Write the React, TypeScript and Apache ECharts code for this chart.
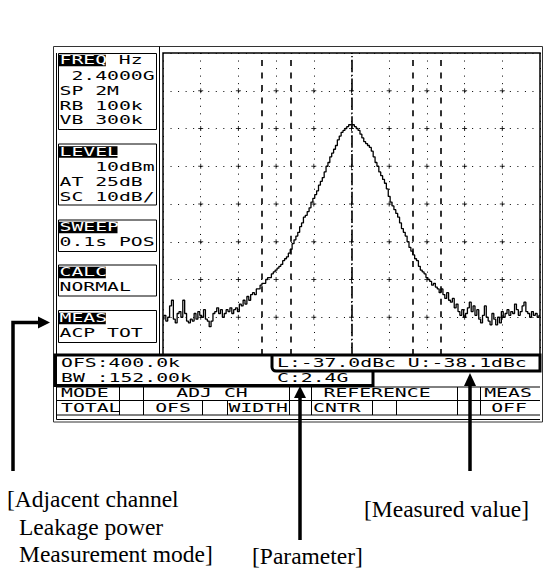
import React, { useEffect, useRef } from "react";
import * as echarts from "echarts";

// ---------------- data ----------------
const SWEEP_START_KHZ = -1000;
const SWEEP_STEP_KHZ = 10;
const TRACE_DBM = [
  -60.5, -59.5, -61, -60, -57, -55.5, -60.5, -61.5, -59, -58.5,
  -60, -55.5, -59, -61, -61.5, -60.5, -61, -59, -60.5, -58.5,
  -59.5, -60, -58, -60.5, -61, -62.5, -61, -59, -58.5, -57.5,
  -59, -58, -60, -59, -58, -58.5, -57.5, -59, -58, -57.5,
  -58.5, -56.5,
  -57, -55.5, -56.5, -54.5, -55.5, -54, -53.5, -54, -52.5, -52.5,
  -51.5, -51, -51, -50, -49.5, -49.5, -48.5, -48, -47.5, -47,
  -46.5, -46, -45, -44.5, -44, -43, -42, -40.5, -39.5, -38.5,
  -37.5, -36, -35, -33.5, -33, -32, -31, -29.5, -28.5, -27.5,
  -26.5, -25, -24, -23, -21.5, -20, -19, -17.5, -16.5, -15.5,
  -14.5, -13, -12, -11, -10.5, -10, -9.5, -9,
  -9, -9, -9.5, -10, -10.5, -11.5, -12.5, -13.5, -14, -14.5,
  -15, -16, -17.5, -19, -20, -21.5, -22.5, -23.5, -24.5, -26,
  -28, -29.5, -30.5, -31.5, -32.5, -33.5, -35, -36.5, -37.5, -38.5,
  -40, -41.5, -42.5, -43.5, -44.5, -45, -46.5, -47.5, -48, -48.5,
  -49.5, -50, -50.5, -51.5, -51, -52, -52.5, -53.5, -52.5, -54,
  -55, -53.5, -55.5, -56, -55, -57.5, -56.5, -58.5, -59.5, -58,
  -60,
  -59, -57.5, -56, -58.5, -57, -59.5, -58, -60.5, -61.5, -59.5,
  -57, -60, -61, -62, -59, -60.5, -62, -60, -61.5, -58.5,
  -60, -59, -58, -59.5, -58.5, -59, -56.5, -58, -59.5, -58.5,
  -57, -56, -58.5, -59, -60, -58.5, -59.5, -59, -60, -59.5,
];

const X_MIN = -1000;
const X_MAX = 1000;
const X_DIV = 200;
const Y_MIN = -70;
const Y_MAX = 10;
const Y_DIV = 10;

const CH_OFFSET_KHZ = 400;
const CH_BW_KHZ = 152;

const PANEL_HEADS = ["FREQ", "LEVEL", "SWEEP", "CALC", "MEAS"];
const PANEL_UNITS = ["Hz", "", "", "", ""];
const PANEL_LINES = [
  [" 2.4000G", "SP 2M", "RB 100k", "VB 300k"],
  ["   10dBm", "AT 25dB", "SC 10dB/"],
  ["0.1s POS"],
  ["NORMAL"],
  ["ACP TOT"],
];

const PARAM_LINES = ["OFS:400.0k", "BW :152.00k"];
const RESULT_LINE = "L:-37.0dBc U:-38.1dBc";
const CENTER_LINE = "C:2.4G";

const MENU_ROW1 = ["MODE", "ADJ CH", "REFERENCE", "MEAS"];
const MENU_ROW2 = ["TOTAL", "OFS", "WIDTH", "CNTR", "OFF"];

const CAPTION_MODE = ["[Adjacent channel", "Leakage power", "Measurement mode]"];
const CAPTION_PARAM = "[Parameter]";
const CAPTION_VALUE = "[Measured value]";

// ---------------- layout / style ----------------
const W = 543;
const H = 569;
const MONO = "'DejaVu Sans Mono', monospace";
const SERIF = "'Liberation Serif', 'Times New Roman', serif";
const FS = 11.5;
const SX = 1.72;
const PITCH = 11.85;

function buildOption() {
  const g: any[] = [];
  const Z = 50;
  const line = (x1: number, y1: number, x2: number, y2: number, lw = 1, color = "#000") =>
    g.push({ type: "line", silent: true, z: Z, shape: { x1, y1, x2, y2 }, style: { stroke: color, lineWidth: lw } });
  const rect = (x: number, y: number, w: number, h: number, style: any, r?: any) =>
    g.push({ type: "rect", silent: true, z: Z, shape: { x, y, width: w, height: h, r: r || 0 }, style });
  const mono = (text: string, x: number, y: number, fill = "#000", align = "left") =>
    g.push({
      type: "text", silent: true, z: Z + 2, x, y, scaleX: SX,
      style: {
        text, fontFamily: MONO, fontSize: FS, fill,
        align, verticalAlign: "middle", textAlign: align, textVerticalAlign: "middle",
      },
    });
  const serif = (text: string, x: number, y: number) =>
    g.push({
      type: "text", silent: true, z: Z + 2, x, y,
      style: {
        text, fontFamily: SERIF, fontSize: 23.5, fill: "#000",
        align: "left", verticalAlign: "middle", textAlign: "left", textVerticalAlign: "middle",
      },
    });

  // frames
  rect(53.5, 46.5, 489, 375.5, { fill: "none", stroke: "#333", lineWidth: 1 });
  line(56.5, 53, 56.5, 419.5);
  line(56.5, 419.5, 540, 419.5);
  line(159.5, 46.5, 159.5, 354);

  // left panels
  const panelBox = [
    [53.5, 129.5], [144, 205], [220, 251.5], [265, 296], [310.5, 342.5],
  ];
  const panelRows = [
    [60.5, 76.5, 91.5, 106, 120.5],
    [152, 167, 182, 197.5],
    [227.5, 242.5],
    [272.5, 287],
    [318.5, 333.5],
  ];
  PANEL_HEADS.forEach((head, i) => {
    const [top, bot] = panelBox[i];
    rect(58.5, top, 98, bot - top, { fill: "#fff", stroke: "#000", lineWidth: 1 });
    const rows = panelRows[i];
    rect(59, rows[0] - 5.8, head.length * 11.7, 11.6, { fill: "#000" });
    mono(head, 59.5, rows[0], "#fff");
    if (PANEL_UNITS[i]) mono(PANEL_UNITS[i], 59.5 + 5 * PITCH, rows[0]);
    PANEL_LINES[i].forEach((t, k) => mono(t, 59.5, rows[k + 1]));
  });

  // parameter / result boxes
  g.push({
    type: "polyline", silent: true, z: Z + 1,
    shape: { points: [[272, 355], [55, 355], [55, 385.5], [373, 385.5], [373, 370]] },
    style: { stroke: "#000", lineWidth: 3, fill: "none" },
  });
  rect(272, 355, 268, 16, { fill: "none", stroke: "#000", lineWidth: 3 }, [0, 0, 0, 4]);
  mono(PARAM_LINES[0], 61, 363);
  mono(PARAM_LINES[1], 61, 378);
  mono(RESULT_LINE, 277, 363);
  mono(CENTER_LINE, 277, 378);

  // softkey menu
  line(56.5, 387, 540, 387);
  line(56.5, 400.5, 540, 400.5);
  line(56.5, 415, 540, 415);
  [119.5, 143.5, 289.5, 311.5, 457.5, 480.5].forEach((x) => line(x, 387, x, 400.5));
  [119.5, 143.5, 202.5, 227.5, 289.5, 311.5, 372.5, 396.5, 457.5, 480.5].forEach((x) => line(x, 400.5, x, 415));
  mono(MENU_ROW1[0], 61, 393.5);
  mono(MENU_ROW1[1], 212, 393.5, "#000", "center");
  mono(MENU_ROW1[2], 377, 393.5, "#000", "center");
  mono(MENU_ROW1[3], 508, 393.5, "#000", "center");
  mono(MENU_ROW2[0], 61, 408);
  mono(MENU_ROW2[1], 173, 408, "#000", "center");
  mono(MENU_ROW2[2], 228.5, 408);
  mono(MENU_ROW2[3], 313, 408);
  mono(MENU_ROW2[4], 509, 408, "#000", "center");

  // arrows
  g.push({
    type: "polyline", silent: true, z: Z + 3,
    shape: { points: [[13, 471], [13, 322.5], [39, 322.5]] },
    style: { stroke: "#000", lineWidth: 3.5, fill: "none" },
  });
  g.push({ type: "polygon", silent: true, z: Z + 3, shape: { points: [[38, 316.5], [50, 322.5], [38, 328.5]] }, style: { fill: "#000" } });
  line(300, 540, 300, 396, 3.5);
  g.push({ type: "polygon", silent: true, z: Z + 3, shape: { points: [[294, 398], [300, 386], [306, 398]] }, style: { fill: "#000" } });
  line(470, 471, 470, 384, 3.5);
  g.push({ type: "polygon", silent: true, z: Z + 3, shape: { points: [[464, 386], [470, 373], [476, 386]] }, style: { fill: "#000" } });

  // captions
  serif(CAPTION_MODE[0], 7, 499);
  serif(CAPTION_MODE[1], 19, 527);
  serif(CAPTION_MODE[2], 19, 554);
  serif(CAPTION_PARAM, 252, 556);
  serif(CAPTION_VALUE, 364, 509);

  // trace
  const trace = TRACE_DBM.map((v, i) => [SWEEP_START_KHZ + i * SWEEP_STEP_KHZ, v]);

  // grid crosses at major intersections
  const crosses: number[][] = [];
  for (let x = X_MIN + X_DIV; x < X_MAX; x += X_DIV)
    for (let y = Y_MIN + Y_DIV; y < Y_MAX; y += Y_DIV) crosses.push([x, y]);

  const dashed = { color: "#000", width: 1.6, type: [6, 6.57] };
  const chLines = [
    -(CH_OFFSET_KHZ + CH_BW_KHZ / 2), -(CH_OFFSET_KHZ - CH_BW_KHZ / 2),
    CH_OFFSET_KHZ - CH_BW_KHZ / 2, CH_OFFSET_KHZ + CH_BW_KHZ / 2,
  ];

  const axisCommon = {
    axisLine: { show: false },
    axisTick: { show: false },
    axisLabel: { show: false },
    splitLine: { show: true, lineStyle: { color: "#000", width: 1, type: [1, 6.54] } },
  };

  return {
    animation: false,
    backgroundColor: "#fff",
    grid: { left: 163, top: 53, width: 377, height: 302, show: true, borderColor: "#000", borderWidth: 1.5, backgroundColor: "transparent" },
    xAxis: { type: "value", min: X_MIN, max: X_MAX, interval: X_DIV, ...axisCommon },
    yAxis: { type: "value", min: Y_MIN, max: Y_MAX, interval: Y_DIV, ...axisCommon },
    series: [
      {
        type: "scatter", data: crosses, silent: true, z: 1,
        symbol: "path://M2,0h1v2h2v1h-2v2h-1v-2h-2v-1h2z", symbolSize: 5,
        itemStyle: { color: "#000" },
      },
      {
        type: "line", data: trace, symbol: "none", step: "middle", silent: true, z: 5,
        lineStyle: { color: "#000", width: 1.3 },
        markLine: {
          silent: true, symbol: ["none", "none"], label: { show: false }, animation: false,
          data: [
            ...chLines.map((v) => ({ xAxis: v, lineStyle: dashed })),
            { xAxis: 0, lineStyle: { color: "#000", width: 1.6, type: [12.5, 2.5, 1.35, 2.5] } },
          ],
        },
      },
    ],
    graphic: g,
  };
}

export default function App() {
  const ref = useRef<HTMLDivElement>(null);
  useEffect(() => {
    const chart = echarts.init(ref.current!, null, { renderer: "svg", width: W, height: H });
    chart.setOption(buildOption() as any);
    return () => chart.dispose();
  }, []);
  return <div ref={ref} style={{ position: "absolute", left: 0, top: 0, width: W, height: H }} />;
}
